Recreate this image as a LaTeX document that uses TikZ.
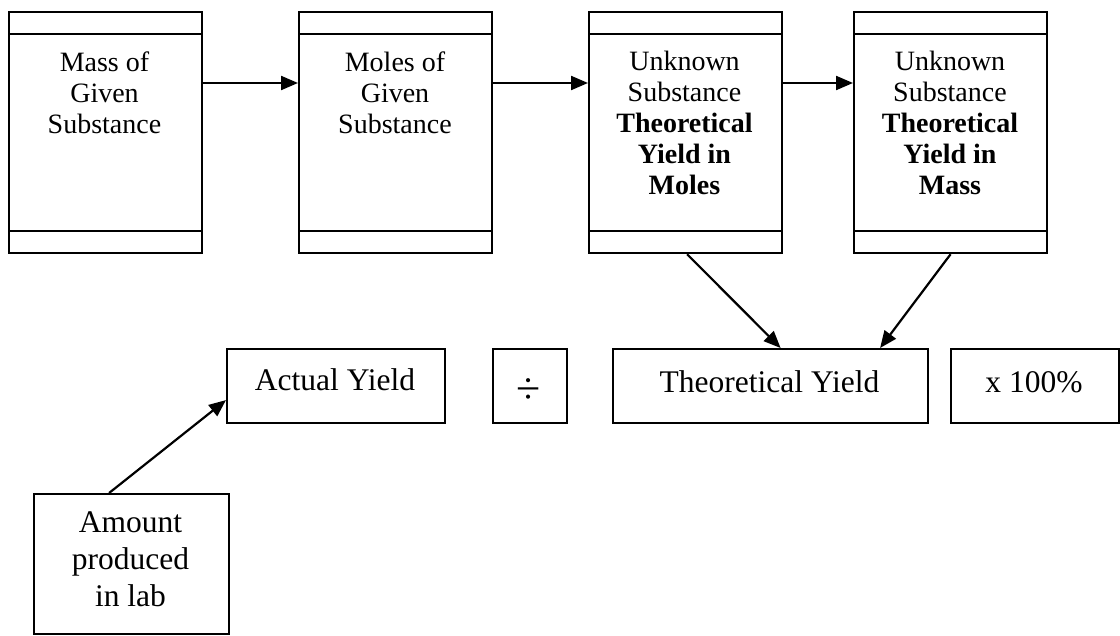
\documentclass[tikz,border=0pt]{standalone}
\usepackage{fontspec}
\setmainfont{Liberation Serif}
\usetikzlibrary{arrows.meta}
\begin{document}
\begin{tikzpicture}[x=1pt,y=-1pt,
  box/.style={draw,line width=2.2pt,rectangle,inner sep=0pt},
  topbox/.style={box,minimum width=193pt,minimum height=241pt,anchor=north west},
  lowbox/.style={box,minimum height=74pt,anchor=north west},
  toptext/.style={anchor=north,align=center,inner sep=0pt,font=\fontsize{28}{31}\selectfont},
  lowtext/.style={anchor=base,inner sep=0pt,font=\fontsize{31.5}{36}\selectfont},
  conn/.style={line width=2.2pt,-{Triangle[length=17pt,width=14pt]}}]
\useasboundingbox (0,0) rectangle (1120,636);
% top boxes
\node[topbox] (b1) at (8,11) {};
\node[topbox] (b2) at (298,11) {};
\node[topbox] (b3) at (588,11) {};
\node[topbox] (b4) at (853,11) {};
\foreach \b in {b1,b2,b3,b4}{
  \draw[line width=2.2pt] ([yshift=-23pt]\b.north west) -- ([yshift=-23pt]\b.north east);
  \draw[line width=2.2pt] ([yshift=23pt]\b.south west) -- ([yshift=23pt]\b.south east);
}
\node[toptext] (t1) at (104.5,52) {Mass of\\Given\\Substance};
\node[toptext] (t2) at (395,52) {Moles of\\Given\\Substance};
\node[toptext] (t3) at (684.5,51) {Unknown\\Substance\\\textbf{Theoretical}\\\textbf{Yield in}\\\textbf{Moles}};
\node[toptext] (t4) at (950,51) {Unknown\\Substance\\\textbf{Theoretical}\\\textbf{Yield in}\\\textbf{Mass}};
% bottom boxes
\node[lowbox,minimum width=218pt] (act) at (226,348) {};
\node[lowbox,minimum width=74pt] (div) at (492,348) {};
\node[lowbox,minimum width=315pt] (theo) at (612,348) {};
\node[lowbox,minimum width=168pt] (pct) at (950,348) {};
\node[lowtext] (ta) at (335,391) {Actual Yield};
\node[inner sep=0pt,font=\fontsize{44}{48}\selectfont] (td) at (529,391) {÷};
\node[lowtext] (tt) at (769.5,393) {Theoretical Yield};
\node[lowtext] (tp) at (1034,393) {x 100\%};
% amount box
\node[box,anchor=north west,minimum width=195pt,minimum height=140pt] (amt) at (33,493) {};
\node[anchor=north,align=center,inner sep=0pt,font=\fontsize{31.5}{37}\selectfont] (tam) at (130.5,512) {Amount\\produced\\in lab};
% connectors
\draw[conn] ([yshift=-72pt]b1.north east) -- ([yshift=-72pt]b2.north west);
\draw[conn] ([yshift=-72pt]b2.north east) -- ([yshift=-72pt]b3.north west);
\draw[conn] ([yshift=-72pt]b3.north east) -- ([yshift=-72pt]b4.north west);
\draw[conn] ([xshift=1.5pt]b3.south) -- ([xshift=10pt]theo.north);
\draw[conn] (b4.south) -- ([xshift=109.5pt]theo.north);
\draw[conn] ([xshift=-22.5pt]amt.north) -- ([yshift=-14pt]act.west);
\end{tikzpicture}
\end{document}
